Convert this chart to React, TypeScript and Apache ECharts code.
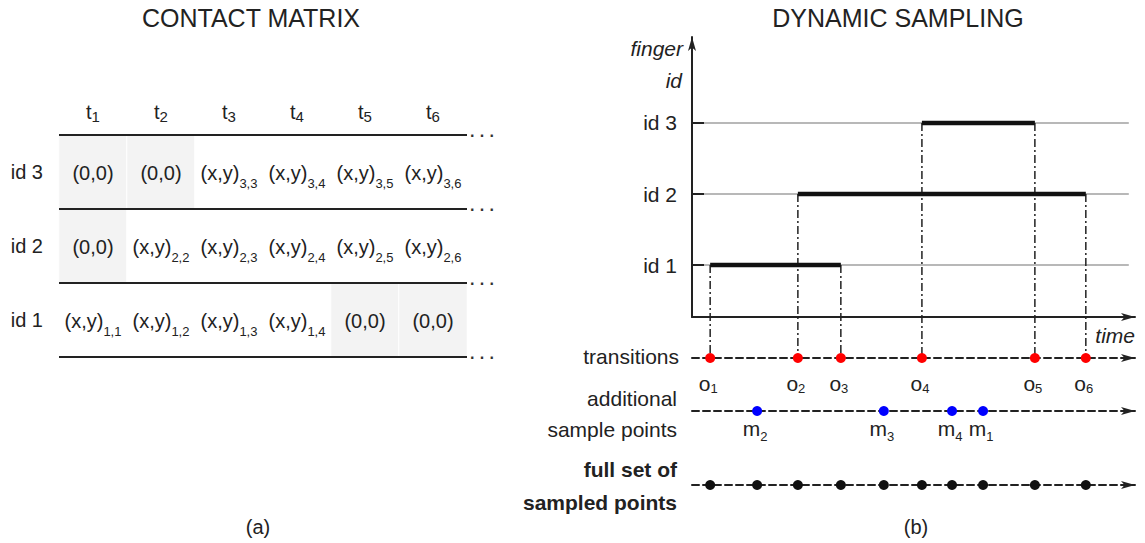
import React, { useEffect, useRef } from 'react';
import * as echarts from 'echarts';

const FONT = '"Liberation Sans", Arial, Helvetica, sans-serif';
const INK = '#222';

// ---------- data: contact matrix ----------
const timeSteps = [1, 2, 3, 4, 5, 6];
const fingerIds = [1, 2, 3];
const activeId1 = [1, 1, 1, 1, 0, 0];
const activeId2 = [0, 1, 1, 1, 1, 1];
const activeId3 = [0, 0, 1, 1, 1, 1];

// ---------- data: dynamic sampling ----------
const segmentIds = [1, 2, 3];
const segmentStart = [4.1, 23.9, 51.9];
const segmentEnd = [33.6, 88.9, 77.4];
const guideEnd = 98.6;
const additionalTimes = [65.7, 14.7, 43.3, 58.7]; // m1..m4
const idTicks = [1, 2, 3];

// ---------- layout ----------
const TABLE = { left: 59, top: 135, width: 408, height: 222 };
const MAIN = { left: 692, top: 37, width: 443, height: 280 };
const Y_MIN = 0.268;
const Y_MAX = 4.211;
const ROW_TRANS = 358;
const ROW_ADD = 411;
const ROW_FULL = 485;
const rowPx = [ROW_TRANS, ROW_ADD, ROW_FULL];
const transitionsY =
  Y_MIN - ((ROW_TRANS - (MAIN.top + MAIN.height)) * (Y_MAX - Y_MIN)) / MAIN.height;

const mainStyle = (size: number, lh: number) => ({
  fontSize: size,
  lineHeight: lh,
  color: INK,
  fontFamily: FONT,
});
const subStyle = (size: number, lh: number) => ({
  fontSize: size,
  lineHeight: lh,
  verticalAlign: 'bottom',
  color: INK,
  fontFamily: FONT,
});

function txt(
  x: number,
  y: number,
  text: string,
  align: string,
  extra: Record<string, any> = {}
) {
  return {
    type: 'text',
    x,
    y,
    silent: true,
    style: {
      text,
      fill: INK,
      fontSize: 21,
      fontFamily: FONT,
      align,
      verticalAlign: 'middle',
      ...extra,
    },
  };
}

function buildOption() {
  const activeRows = [activeId1, activeId2, activeId3];
  const heatData: number[][] = [];
  fingerIds.forEach((_, r) =>
    timeSteps.forEach((_, c) => heatData.push([c, r, activeRows[r][c]]))
  );

  const transitions = segmentStart.concat(segmentEnd).sort((a, b) => a - b);
  const fullSet = transitions.concat(additionalTimes).sort((a, b) => a - b);

  const lineSeries = (data: number[][], style: any, extra: any = {}) => ({
    type: 'line',
    xAxisIndex: 1,
    yAxisIndex: 2,
    data,
    symbol: 'none',
    silent: true,
    lineStyle: style,
    ...extra,
  });

  const guides = segmentIds.map((id) =>
    lineSeries([[0, id], [guideEnd, id]], { color: '#b8b8b8', width: 2 }, { z: 1 })
  );
  const segments = segmentIds.map((id, i) =>
    lineSeries(
      [[segmentStart[i], id], [segmentEnd[i], id]],
      { color: '#111', width: 4.5, cap: 'butt' },
      { z: 3 }
    )
  );
  const verticals: any[] = [];
  segmentIds.forEach((id, i) => {
    [segmentStart[i], segmentEnd[i]].forEach((t) => {
      verticals.push(
        lineSeries(
          [[t, id], [t, transitionsY]],
          { color: INK, width: 1.5, type: [8, 3, 2, 3] },
          { z: 2, clip: false }
        )
      );
    });
  });

  const arrowLine = (dashed: boolean) => ({
    onZero: false,
    lineStyle: { color: INK, width: 2, type: dashed ? [7, 4] : 'solid' },
    symbol: ['none', 'arrow'],
    symbolSize: [6, 14],
  });

  const hidden = {
    axisTick: { show: false },
    axisLabel: { show: false },
    splitLine: { show: false },
  };

  const dotSeries = (axis: number, data: any[], color: string, label?: any) => ({
    type: 'scatter',
    xAxisIndex: axis,
    yAxisIndex: axis + 1,
    data,
    symbolSize: 10,
    clip: false,
    silent: true,
    z: 4,
    itemStyle: { color, opacity: 1 },
    label: label || { show: false },
  });

  return {
    animation: false,
    backgroundColor: '#fff',
    textStyle: { fontFamily: FONT },
    grid: [
      { ...TABLE },
      { ...MAIN },
      ...rowPx.map((p) => ({ left: MAIN.left, width: MAIN.width, top: p - 10, height: 10 })),
    ],
    visualMap: {
      type: 'piecewise',
      show: false,
      seriesIndex: 0,
      dimension: 2,
      pieces: [
        { value: 0, color: '#f3f3f3' },
        { value: 1, color: '#ffffff' },
      ],
    },
    xAxis: [
      {
        gridIndex: 0,
        type: 'category',
        data: timeSteps.map(String),
        position: 'top',
        axisLine: { show: false },
        axisTick: { show: false },
        splitLine: { show: false },
        axisLabel: {
          margin: 11,
          formatter: (v: string) => `{t|t}{s|${v}}`,
          rich: { t: mainStyle(20, 24), s: subStyle(15, 16) },
        },
      },
      {
        gridIndex: 1,
        type: 'value',
        min: 0,
        max: 100,
        axisLine: arrowLine(false),
        ...hidden,
      },
      ...rowPx.map((_, i) => ({
        gridIndex: 2 + i,
        type: 'value',
        min: 0,
        max: 100,
        axisLine: arrowLine(true),
        ...hidden,
      })),
    ],
    yAxis: [
      {
        gridIndex: 0,
        type: 'category',
        data: fingerIds.map((id) => 'id ' + id),
        z: 5,
        axisLine: { show: false },
        axisTick: { show: false },
        axisLabel: { margin: 16, fontSize: 20, color: INK, fontFamily: FONT },
        splitLine: { show: true, lineStyle: { color: INK, width: 2 } },
      },
      {
        gridIndex: 0,
        type: 'value',
        position: 'right',
        min: 0,
        max: 3,
        interval: 1,
        axisLine: { show: false },
        axisTick: { show: false },
        splitLine: { show: false },
        axisLabel: {
          margin: 3,
          fontSize: 16,
          fontWeight: 'bold',
          color: '#333',
          fontFamily: FONT,
          formatter: () => '· · ·',
        },
      },
      {
        gridIndex: 1,
        type: 'value',
        min: Y_MIN,
        max: Y_MAX,
        z: 5,
        axisLine: arrowLine(false),
        axisTick: {
          show: true,
          inside: true,
          length: 12,
          lineStyle: { color: INK, width: 2 },
          customValues: idTicks,
        },
        axisLabel: {
          customValues: idTicks,
          formatter: (v: number) => 'id ' + Math.round(v),
          margin: 15,
          fontSize: 21,
          color: INK,
          fontFamily: FONT,
        },
        splitLine: { show: false },
      },
      ...rowPx.map((_, i) => ({
        gridIndex: 2 + i,
        type: 'value',
        min: 0,
        max: 1,
        show: false,
      })),
    ],
    series: [
      {
        type: 'heatmap',
        xAxisIndex: 0,
        yAxisIndex: 0,
        data: heatData,
        silent: true,
        itemStyle: { borderColor: '#fff', borderWidth: 1 },
        label: {
          show: true,
          offset: [0, 1],
          color: INK,
          formatter: (p: any) => {
            const [c, r, a] = p.data;
            return a
              ? `{m|(x,y)}{s|${fingerIds[r]},${timeSteps[c]}}`
              : '{m|(0,0)}';
          },
          rich: { m: mainStyle(20, 34), s: subStyle(13, 13) },
        },
      },
      ...guides,
      ...verticals,
      ...segments,
      dotSeries(
        2,
        transitions.map((t) => [t, 0]),
        '#ff0000',
        {
          show: true,
          position: 'inside',
          offset: [-2, 25],
          color: INK,
          opacity: 1,
          formatter: (p: any) => `{m|o}{s|${p.dataIndex + 1}}`,
          rich: { m: mainStyle(21, 24), s: subStyle(13, 14) },
        }
      ),
      dotSeries(
        3,
        additionalTimes.map((t, i) => ({ value: [t, 0], name: String(i + 1) })),
        '#0000ff',
        {
          show: true,
          position: 'inside',
          offset: [-2, 17],
          color: INK,
          opacity: 1,
          formatter: (p: any) => `{m|m}{s|${p.name}}`,
          rich: { m: mainStyle(21, 30), s: subStyle(13, 13) },
        }
      ),
      dotSeries(4, fullSet.map((t) => [t, 0]), '#111'),
    ],
    graphic: {
      elements: [
        txt(251, 18, 'CONTACT MATRIX', 'center', { fontSize: 25 }),
        txt(898, 18, 'DYNAMIC SAMPLING', 'center', { fontSize: 25 }),
        txt(258, 527, '(a)', 'center', { fontSize: 20 }),
        txt(916, 527, '(b)', 'center', { fontSize: 20 }),
        txt(683, 48, 'finger', 'right', { fontStyle: 'italic' }),
        txt(682, 80, 'id', 'right', { fontStyle: 'italic' }),
        txt(1135, 335, 'time', 'right', { fontStyle: 'italic' }),
        txt(679, 356, 'transitions', 'right'),
        txt(677, 398, 'additional', 'right'),
        txt(677, 429, 'sample points', 'right'),
        txt(677, 469, 'full set of', 'right', { fontWeight: 'bold' }),
        txt(677, 502, 'sampled points', 'right', { fontWeight: 'bold' }),
      ],
    },
  };
}

export default function App() {
  const ref = useRef<HTMLDivElement>(null);
  useEffect(() => {
    if (!ref.current) return;
    const chart = echarts.init(ref.current, undefined, { renderer: 'svg' });
    chart.setOption(buildOption() as any);
    return () => chart.dispose();
  }, []);
  return (
    <div
      ref={ref}
      style={{ position: 'absolute', left: 0, top: 0, width: 1145, height: 543, background: '#fff' }}
    />
  );
}
